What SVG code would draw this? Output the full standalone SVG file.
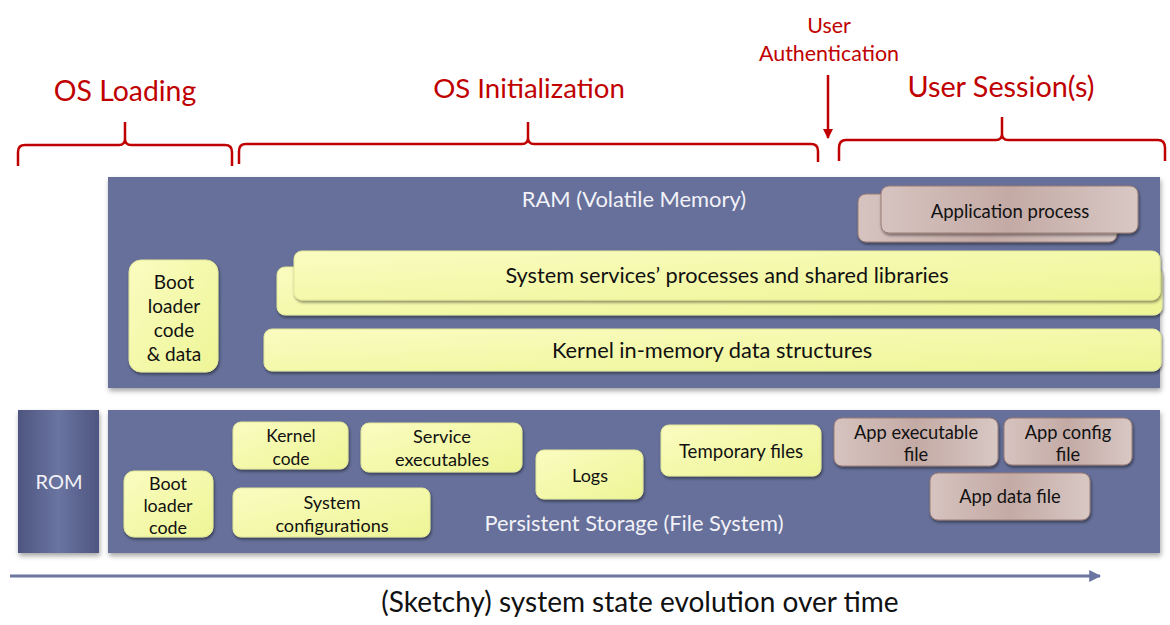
<svg xmlns="http://www.w3.org/2000/svg" width="1170" height="625" viewBox="0 0 1170 625">
<defs>
<filter id="sh" x="-10%" y="-10%" width="125%" height="130%"><feDropShadow dx="1" dy="3" stdDeviation="2.5" flood-color="#000" flood-opacity="0.35"/></filter>
<filter id="sh2" x="-10%" y="-10%" width="125%" height="140%"><feDropShadow dx="1" dy="2" stdDeviation="1.5" flood-color="#000" flood-opacity="0.45"/></filter>
<linearGradient id="yel" x1="0" y1="0" x2="1" y2="1"><stop offset="0" stop-color="#fafcc0"/><stop offset="1" stop-color="#eef596"/></linearGradient>
<linearGradient id="brn" x1="0" y1="0" x2="1" y2="0"><stop offset="0" stop-color="#d6c3bf"/><stop offset="0.5" stop-color="#c4aaa5"/><stop offset="1" stop-color="#d8c8c4"/></linearGradient>
<linearGradient id="rom" x1="0" y1="0" x2="1" y2="0"><stop offset="0" stop-color="#4e5680"/><stop offset="0.5" stop-color="#6a74a0"/><stop offset="1" stop-color="#4e5680"/></linearGradient>
<marker id="ah" viewBox="0 0 10 10" refX="9" refY="5" markerWidth="4" markerHeight="4" orient="auto"><path d="M0,0 L10,5 L0,10 z" fill="#6a75a0"/></marker>
<marker id="ar" viewBox="0 0 10 10" refX="9" refY="5" markerWidth="4" markerHeight="4" orient="auto"><path d="M0,0 L10,5 L0,10 z" fill="#c00000"/></marker>
</defs>
<style>
.red{fill:#c00000;font-family:Lato,"Open Sans",sans-serif;text-anchor:middle}
.br{fill:none;stroke:#c00000;stroke-width:2.5;stroke-linejoin:round}
.panel{fill:#66709a}
.y{fill:url(#yel);stroke:#e2e79a;stroke-width:1}
.b{fill:url(#brn);stroke:#9a7c76;stroke-width:1}
.t{font-family:Lato,"Open Sans",sans-serif;fill:#111;text-anchor:middle}
.w{font-family:Lato,"Open Sans",sans-serif;fill:#f2f2f8;text-anchor:middle}
</style>
<rect width="1170" height="625" fill="#fff"/>

<g id="labels">
<text class="red" x="125" y="101" font-size="28.4">OS Loading</text>
<text class="red" x="529" y="98" font-size="27.6">OS Initialization</text>
<text class="red" x="1001" y="97" font-size="28.8">User Session(s)</text>
<text class="red" x="829" y="33" font-size="21.4">User</text>
<text class="red" x="829" y="61" font-size="21.4">Authentication</text>
</g>

<g id="connectors">
<path class="br" d="M18,166 V152 Q18,145 25,145 H119 Q125,145 125,139 V122 M125,122 V139 Q125,145 131,145 H225 Q232,145 232,152 V166"/>
<path class="br" d="M239,164 V151 Q239,144 246,144 H522 Q528,144 528,138 V122 M528,122 V138 Q528,144 534,144 H811 Q818,144 818,151 V162"/>
<path class="br" d="M839,161 V148 Q839,140 846,140 H996 Q1002,140 1002,134 V117 M1002,117 V134 Q1002,140 1008,140 H1158 Q1165,140 1165,148 V161"/>
<line x1="828" y1="75" x2="828" y2="138" stroke="#c00000" stroke-width="2.5" marker-end="url(#ar)"/>
<line x1="10" y1="576" x2="1100" y2="576" stroke="#6a75a0" stroke-width="3" marker-end="url(#ah)"/>
</g>

<g id="ram">
<rect class="panel" x="108" y="177" width="1052" height="211" filter="url(#sh)"/>
<text class="w" x="634" y="207" font-size="21.9">RAM (Volatile Memory)</text>
</g>
<g id="app-process">
<rect class="b" x="858" y="194" width="259" height="48" rx="8" filter="url(#sh2)"/>
<rect class="b" x="881" y="186" width="257" height="47" rx="8" filter="url(#sh2)"/>
<text class="t" x="1010" y="218" font-size="18.5">Application process</text>
</g>
<g id="boot-ram">
<rect class="y" x="129" y="260" width="89" height="112" rx="12" filter="url(#sh2)"/>
<text class="t" x="174" y="289" font-size="19">Boot</text>
<text class="t" x="174" y="313" font-size="19">loader</text>
<text class="t" x="174" y="337" font-size="19">code</text>
<text class="t" x="174" y="361" font-size="19">&amp; data</text>
</g>
<g id="services">
<rect class="y" x="277" y="267" width="885" height="48" rx="8" filter="url(#sh2)"/>
<rect class="y" x="294" y="251" width="866" height="49" rx="8" filter="url(#sh2)"/>
<text class="t" x="727" y="283" font-size="21.7">System services’ processes and shared libraries</text>
</g>
<g id="kernel-mem">
<rect class="y" x="264" y="329" width="897" height="42" rx="8" filter="url(#sh2)"/>
<text class="t" x="712" y="358" font-size="21.8">Kernel in-memory data structures</text>
</g>

<g id="rom-node">
<rect x="18" y="410" width="81" height="143" fill="url(#rom)" filter="url(#sh)"/>
<text class="w" x="59" y="489" font-size="20">ROM</text>
</g>
<g id="storage">
<rect class="panel" x="108" y="410" width="1052" height="143" filter="url(#sh)"/>
<text class="w" x="634" y="531" font-size="21.8">Persistent Storage (File System)</text>
</g>
<g id="boot-code">
<rect class="y" x="124" y="471" width="89" height="66" rx="10" filter="url(#sh2)"/>
<text class="t" x="168" y="490" font-size="17.9">Boot</text>
<text class="t" x="168" y="512" font-size="17.9">loader</text>
<text class="t" x="168" y="534" font-size="17.9">code</text>
</g>
<g id="kernel-code">
<rect class="y" x="233" y="422" width="115" height="47" rx="8" filter="url(#sh2)"/>
<text class="t" x="291" y="442" font-size="17.4">Kernel</text>
<text class="t" x="291" y="465" font-size="17.4">code</text>
</g>
<g id="service-exec">
<rect class="y" x="361" y="423" width="161" height="49" rx="8" filter="url(#sh2)"/>
<text class="t" x="442" y="443" font-size="18.2">Service</text>
<text class="t" x="442" y="466" font-size="18.2">executables</text>
</g>
<g id="sys-config">
<rect class="y" x="233" y="488" width="197" height="49" rx="8" filter="url(#sh2)"/>
<text class="t" x="332" y="509" font-size="18.1">System</text>
<text class="t" x="332" y="532" font-size="18.1">configurations</text>
</g>
<g id="logs">
<rect class="y" x="536" y="450" width="107" height="49" rx="8" filter="url(#sh2)"/>
<text class="t" x="590" y="482" font-size="18">Logs</text>
</g>
<g id="temp-files">
<rect class="y" x="661" y="425" width="160" height="51" rx="8" filter="url(#sh2)"/>
<text class="t" x="741" y="458" font-size="18.6">Temporary files</text>
</g>
<g id="app-exec">
<rect class="b" x="834" y="418" width="164" height="48" rx="8" filter="url(#sh2)"/>
<text class="t" x="916" y="439" font-size="18.3">App executable</text>
<text class="t" x="916" y="461" font-size="18.3">file</text>
</g>
<g id="app-config">
<rect class="b" x="1004" y="418" width="128" height="47" rx="8" filter="url(#sh2)"/>
<text class="t" x="1068" y="439" font-size="18.3">App config</text>
<text class="t" x="1068" y="461" font-size="18.3">file</text>
</g>
<g id="app-data">
<rect class="b" x="930" y="473" width="160" height="47" rx="8" filter="url(#sh2)"/>
<text class="t" x="1010" y="503" font-size="18.3">App data file</text>
</g>

<text class="t" x="640" y="612" font-size="28">(Sketchy) system state evolution over time</text>
</svg>
